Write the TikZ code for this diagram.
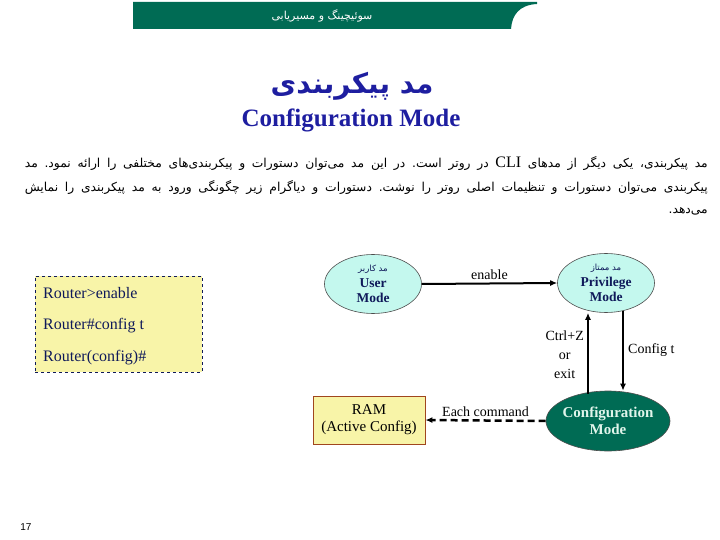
\documentclass[tikz,border=0pt]{standalone}
\usepackage{fontspec}
\setmainfont{Liberation Serif}
\newfontfamily\fa[Script=Arabic]{DejaVu Sans}
\newfontfamily\lsans{Liberation Sans}
\TeXXeTstate=1
\frenchspacing
\usetikzlibrary{arrows.meta,shapes.geometric}
\definecolor{hdrgreen}{RGB}{0,107,84}
\definecolor{ttlblue}{RGB}{30,30,160}
\definecolor{navy}{RGB}{15,25,90}
\definecolor{cyanfill}{RGB}{196,248,238}
\definecolor{yelfill}{RGB}{248,244,168}
\definecolor{ramborder}{RGB}{160,70,30}
\definecolor{cfgtext}{RGB}{225,245,235}
\tikzset{
  modeell/.style={ellipse, draw=black!70, fill=cyanfill, line width=0.6pt, minimum width=97pt, minimum height=59pt, inner sep=0pt, align=center, text=navy, font=\bfseries\fontsize{13.5}{15}\selectfont},
  conn/.style={line width=2pt, -{Latex[length=7pt,width=6pt]}},
  lbl/.style={font=\fontsize{14}{15}\selectfont, inner sep=1pt},
  cmdline/.style={anchor=west, text=navy, font=\fontsize{16}{17}\selectfont, inner sep=0pt},
  paraline/.style={anchor=east, inner sep=0pt, font=\fa\fontsize{12.3}{14}\selectfont}
}
\begin{document}
\begin{tikzpicture}[x=1pt,y=-1pt]
\useasboundingbox (0,0) rectangle (720,540);
% header
\fill[hdrgreen] (133,2) -- (537,2) -- (537,4) .. controls (519,5) and (512,15) .. (511,29) -- (133,29) -- cycle;
\node[text=white, font=\fa\fontsize{11}{12}\selectfont] (hdr) at (322,16) {\beginR سوئیچینگ و مسیریابی\endR};
% titles
\node[text=ttlblue, font=\fa\bfseries\fontsize{28}{30}\selectfont] (t1) at (352,86) {\beginR مد پیکربندی\endR};
\node[text=ttlblue, font=\bfseries\fontsize{25}{27}\selectfont] (t2) at (351,120) {Configuration Mode};
% paragraph
\node[paraline] (p1) at (708,163) {\hbox to 683pt{\beginR مد پیکربندی، یکی دیگر از مدهای \beginL{\rmfamily\fontsize{16}{16}\selectfont CLI}\endL{} در روتر است. در این مد می‌توان دستورات و پیکربندی‌های مختلفی را ارائه نمود. مد\endR}};
\node[paraline] (p2) at (708,187) {\hbox to 683pt{\beginR پیکربندی می‌توان دستورات و تنظیمات اصلی روتر را نوشت. دستورات و دیاگرام زیر چگونگی ورود به مد پیکربندی را نمایش\endR}};
\node[paraline] (p3) at (708,211) {\beginR می‌دهد.\endR};
% command box
\node[draw=navy, dashed, fill=yelfill, line width=0.7pt, minimum width=167pt, minimum height=96pt, inner sep=0pt] (cmd) at (118.5,324) {};
\node[cmdline] (c1) at (43,293) {Router>enable};
\node[cmdline] (c2) at (43,326) {Router\#config t};
\node[cmdline] (c3) at (43,358) {Router(config)\#};
% modes
\node[modeell] (user) at (373,284) {{\fa\mdseries\fontsize{8.5}{10}\selectfont\beginR مد کاربر\endR}\\[1pt]User\\Mode};
\node[modeell] (priv) at (606,283) {{\fa\mdseries\fontsize{8.5}{10}\selectfont\beginR مد ممتاز\endR}\\[1pt]Privilege\\Mode};
\node[ellipse, draw=black!70, fill=hdrgreen, line width=0.6pt, minimum width=124pt, minimum height=60pt, inner sep=-2pt, align=center, text=cfgtext, font=\bfseries\fontsize{15}{17}\selectfont] (cfg) at (608,421) {Configuration\\Mode};
\node[draw=ramborder, fill=yelfill, line width=0.8pt, minimum width=112pt, minimum height=48pt, inner sep=0pt, align=center, font=\fontsize{15}{17}\selectfont] (ram) at (369,420) {RAM\\(Active Config)};
% connectors
\draw[conn] (user.east) -- (priv.west) node[lbl, midway, above=2pt] (len) {enable};
\draw[conn] (cfg.north -| 588,0) ++(0,3) coordinate (upst) -- (upst |- priv.south) coordinate (upen);
\draw[conn] (priv.south -| 623,0) ++(0,-2) coordinate (dnst) -- (dnst |- cfg.north) coordinate (dnen);
\node[lbl, align=center, anchor=east, font=\fontsize{14}{19}\selectfont] (lctrl) at (585,355) {Ctrl+Z\\or\\exit};
\node[lbl, anchor=west] (lcfg) at (627,350) {Config t};
\draw[line width=2.5pt, dashed, dash pattern=on 7pt off 4pt, -{Latex[length=7pt,width=6pt]}] (cfg.west) -- (ram.east) node[lbl, midway, above=2pt] (lec) {Each command};
% page number
\node[font=\lsans\fontsize{10}{11}\selectfont] (pg) at (26,527) {17};
\end{tikzpicture}
\end{document}
